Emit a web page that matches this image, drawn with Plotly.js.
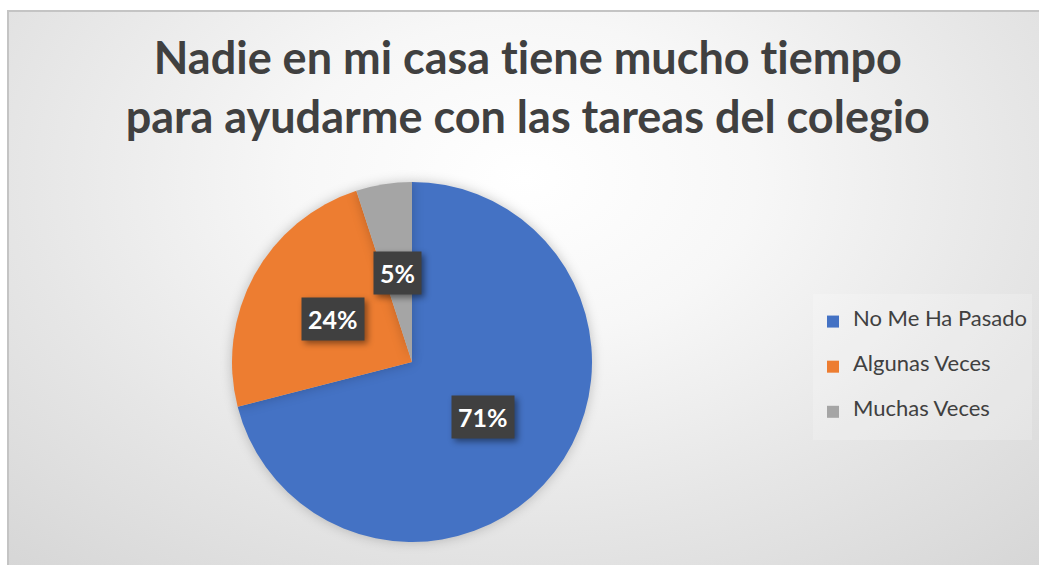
<!DOCTYPE html>
<html>
<head>
<meta charset="utf-8">
<script src="https://cdn.plot.ly/plotly-3.0.1.min.js"></script>
<style>
  html, body { margin:0; padding:0; width:1039px; height:565px; overflow:hidden; background:#ffffff; }
  #frame { position:absolute; left:7px; top:10px; width:1032px; height:555px; box-sizing:border-box;
    border-left:2px solid #c4c4c4; border-top:2px solid #c4c4c4;
    background: radial-gradient(ellipse 75% 95% at 50% 30%, #ffffff 0%, #f7f7f7 30%, #e6e6e6 65%, #d6d6d6 100%); }
  #chart { position:absolute; left:0; top:0; width:1039px; height:565px; }
  #chart text { font-variant-ligatures: none; font-feature-settings: "liga" 0, "clig" 0; }
  #chart .slice path.surface { filter: drop-shadow(0px 0px 6px rgba(0,0,0,0.22)); }
  #chart .annotation-text-g rect.bg { filter: drop-shadow(3px 3px 3px rgba(0,0,0,0.45)); }
</style>
</head>
<body>
<div id="frame"></div>
<div id="chart"></div>
<script>
const categories = ["No Me Ha Pasado", "Algunas Veces", "Muchas Veces"];
const values = [71, 24, 5];
const valueLabels = ["71%", "24%", "5%"];
const colors = ["#4472C4", "#ED7D31", "#A5A5A5"];
const chartTitle = "Nadie en mi casa tiene mucho tiempo<br>para ayudarme con las tareas del colegio";

const W = 1039, H = 565;
const cx = 412, cy = 362, R = 180;
const domX = [(cx - R) / W, (cx + R) / W];
const domY = [1 - (cy + R) / H, 1 - (cy - R) / H];

// label annotations computed from data through pie geometry (clockwise from 12 o'clock)
const total = values.reduce((a, b) => a + b, 0);
let cum = 0;
const annotations = values.map((v, i) => {
  const mid = (cum + v / 2) / total * 2 * Math.PI;
  cum += v;
  const px = cx + Math.sin(mid) * R * 0.5;
  const py = cy - Math.cos(mid) * R * 0.5;
  return {
    x: px / W, y: 1 - py / H, xref: 'paper', yref: 'paper',
    text: '<b>' + valueLabels[i] + '</b>', showarrow: false,
    font: {family: 'Lato, "Open Sans", sans-serif', size: 25, color: '#ffffff'},
    bgcolor: '#404040', borderpad: 6, xanchor: 'center', yanchor: 'middle'
  };
});

// legend entries: label on a middle line, small spacer lines above/below for row spacing
const legendLabels = categories.map(c =>
  '\u00a0<br><span style="font-size:22px">' + c + '</span><br>\u00a0');

const trace = {
  type: 'pie',
  labels: legendLabels,
  values: values,
  sort: false,
  direction: 'clockwise',
  rotation: 0,
  textinfo: 'none',
  hoverinfo: 'none',
  marker: {colors: colors, line: {width: 0}},
  domain: {x: domX, y: domY}
};

const layout = {
  width: W, height: H,
  margin: {l: 0, r: 0, t: 0, b: 0},
  paper_bgcolor: 'rgba(0,0,0,0)',
  plot_bgcolor: 'rgba(0,0,0,0)',
  title: {
    text: '<b>' + chartTitle + '</b>',
    font: {family: 'Lato, "Open Sans", sans-serif', size: 45, color: '#404040'},
    x: 0.508, xanchor: 'center', y: 0.869, yanchor: 'bottom'
  },
  showlegend: true,
  legend: {
    x: 813 / W, y: 1 - 294 / H, xanchor: 'left', yanchor: 'top',
    bgcolor: 'rgba(255,255,255,0.2)',
    font: {family: 'Lato, "Open Sans", sans-serif', size: 10.8, color: '#404040'},
    valign: 'middle',
    itemclick: false, itemdoubleclick: false
  },
  annotations: annotations
};

Plotly.newPlot('chart', [trace], layout, {displayModeBar: false, staticPlot: true});
</script>
</body>
</html>
